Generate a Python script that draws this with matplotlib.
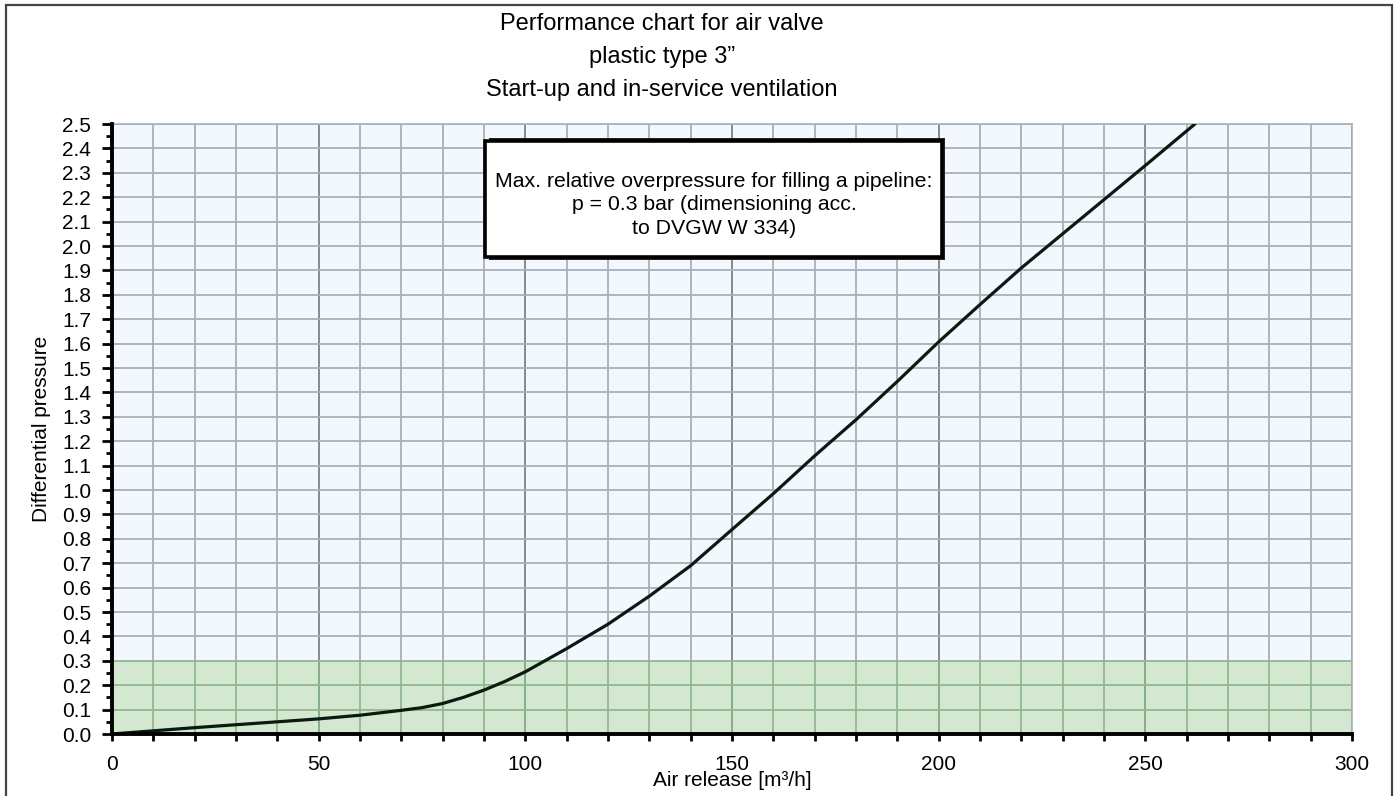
import numpy as np
import matplotlib
matplotlib.use("Agg")
import matplotlib.pyplot as plt
from matplotlib.patches import Rectangle
from matplotlib.ticker import MultipleLocator, FormatStrFormatter

plt.rcParams['font.family'] = ['Liberation Sans', 'DejaVu Sans']

# ---- data ----
air_release = [0, 10, 20, 30, 40, 50, 60, 70, 75, 80, 85, 90, 95, 100, 110, 120, 130, 140,
               150, 160, 170, 180, 190, 200, 210, 220, 230, 240, 250, 262]
diff_pressure = [0, 0.013, 0.026, 0.038, 0.05, 0.062, 0.077, 0.097, 0.108, 0.125, 0.15,
                 0.18, 0.215, 0.255, 0.35, 0.45, 0.565, 0.69, 0.838, 0.985, 1.14,
                 1.288, 1.445, 1.607, 1.76, 1.91, 2.05, 2.19, 2.33, 2.5]
max_fill_pressure = 0.3
x_limits = [0, 300]
y_limits = [0.0, 2.5]
title_lines = ["Performance chart for air valve", "plastic type 3\u201d",
               "Start-up and in-service ventilation"]
box_text = "Max. relative overpressure for filling a pipeline:\np = 0.3 bar (dimensioning acc.\nto DVGW W 334)"

W, H = 1397, 796
fig = plt.figure(figsize=(W / 100, H / 100), dpi=100)
ax = fig.add_axes([112 / W, 1 - 734 / H, (1352 - 112) / W, (734 - 124) / H])

ax.set_xlim(*x_limits)
ax.set_ylim(*y_limits)
ax.set_facecolor('#f2f8fd')

# green band
ax.axhspan(0, max_fill_pressure, color='#d4e7d0', zorder=0.5, lw=0)

grey = '#a9b1b5'
dark = '#7b8386'
green = '#8fb88f'
xs_minor = np.arange(10, 301, 10)
ys = np.round(np.arange(0.1, 2.51, 0.1), 2)
for xv in xs_minor:
    c = dark if xv % 50 == 0 else grey
    ax.plot([xv, xv], [max_fill_pressure, 2.5], color=c, lw=1.3, zorder=1)
    ax.plot([xv, xv], [0, max_fill_pressure], color='#7fa97f' if xv % 50 == 0 else green, lw=1.3, zorder=1)
for yv in ys:
    c = green if yv <= max_fill_pressure + 1e-9 else grey
    ax.plot([0, 300], [yv, yv], color=c, lw=1.3, zorder=1)

# curve
ax.plot(air_release, diff_pressure, color='#0b1a10', lw=2.3, zorder=3,
        solid_capstyle='round', solid_joinstyle='round')

# spines
for s in ['left', 'bottom']:
    ax.spines[s].set_linewidth(2.8)
    ax.spines[s].set_color('black')
    ax.spines[s].set_zorder(4)
for s in ['top', 'right']:
    ax.spines[s].set_linewidth(1.2)
    ax.spines[s].set_color(grey)

# ticks
ax.xaxis.set_major_locator(MultipleLocator(50))
ax.xaxis.set_minor_locator(MultipleLocator(10))
ax.yaxis.set_major_locator(MultipleLocator(0.1))
ax.yaxis.set_minor_locator(MultipleLocator(0.05))
ax.yaxis.set_major_formatter(FormatStrFormatter('%.1f'))
ax.tick_params(axis='x', which='both', direction='out', length=5, width=2,
               labelsize=15, pad=10, color='black')
ax.tick_params(axis='y', which='major', direction='out', length=7, width=2,
               labelsize=15, pad=8, color='black')
ax.tick_params(axis='y', which='minor', direction='out', length=4, width=2,
               color='black')

ax.set_xlabel("Air release [m\u00b3/h]", fontsize=15, labelpad=-2)
ax.set_ylabel("Differential pressure", fontsize=15, labelpad=8)

# title
for i, t in enumerate(title_lines):
    fig.text(662 / W, 1 - (24 + 33 * i) / H, t, ha='center', va='center', fontsize=17)

# annotation box (figure pixel coords)
def fx(p):
    return p / W

def fy(p):
    return 1 - p / H

fig.patches.append(Rectangle((fx(489), fy(260)), fx(945) - fx(489), fy(138) - fy(260),
                             transform=fig.transFigure, facecolor='#222222',
                             edgecolor='none', zorder=5))
fig.patches.append(Rectangle((fx(485), fy(257)), fx(942) - fx(485), fy(141) - fy(257),
                             transform=fig.transFigure, facecolor='white',
                             edgecolor='black', lw=2.6, zorder=6))
fig.text(fx(714), fy(205), box_text, ha='center', va='center', fontsize=15.3,
         linespacing=1.3, zorder=7)

# outer frame
fig.patches.append(Rectangle((fx(6), fy(820)), fx(1392) - fx(6), fy(5) - fy(820),
                             transform=fig.transFigure, facecolor='none',
                             edgecolor='#444444', lw=1.6, zorder=10))

fig.savefig("out.png", dpi=100)
